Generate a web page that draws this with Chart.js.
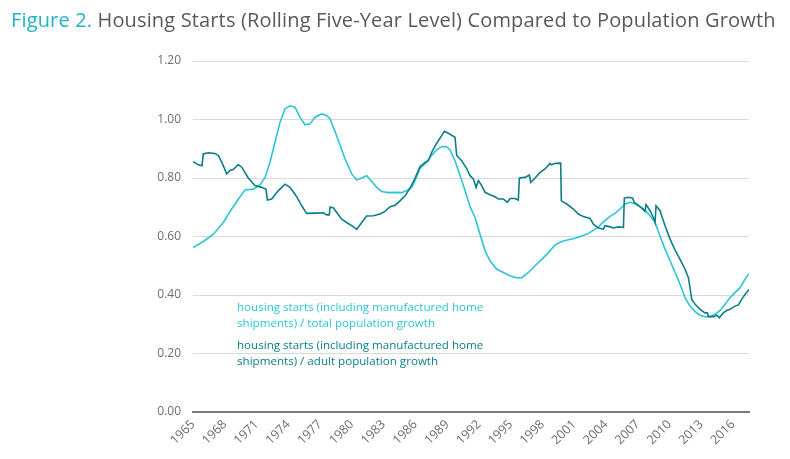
<!DOCTYPE html>
<html>
<head>
<meta charset="utf-8">
<script src="https://cdn.jsdelivr.net/npm/chart.js@4/dist/chart.umd.min.js"></script>
<style>
  html, body { margin: 0; padding: 0; background: #ffffff; }
  #wrap { position: relative; width: 790px; height: 459px; overflow: hidden; }
  #title { position: absolute; left: 11px; top: 6px; font-family: "Open Sans", sans-serif; font-size: 20px; color: #58595b; white-space: nowrap; letter-spacing: 0.15px; }
  #title .fig { color: #1fb3c3; }
  .leg { position: absolute; left: 237px; font-family: "Open Sans", sans-serif; font-size: 11.6px; line-height: 16px; white-space: nowrap; }
  #leg1 { top: 299px; color: #2cc6d6; }
  #leg2 { top: 337px; color: #0c8089; }
  canvas { position: absolute; left: 0; top: 0; }
</style>
</head>
<body>
<div id="wrap">
  <canvas id="c" width="790" height="459"></canvas>
  <div id="title"><span class="fig">Figure 2.</span> Housing Starts (Rolling Five-Year Level) Compared to Population Growth</div>
  <div class="leg" id="leg1">housing starts (including manufactured home<br>shipments) / total population growth</div>
  <div class="leg" id="leg2">housing starts (including manufactured home<br>shipments) / adult population growth</div>
</div>
<script>
// X-axis tick labels (years)
const tickYears = [1965, 1968, 1971, 1974, 1977, 1980, 1983, 1986, 1989, 1992, 1995, 1998, 2001, 2004, 2007, 2010, 2013, 2016];

// Series: housing starts / total population growth (light cyan)
const totalYears = [1965.00, 1965.98, 1966.92, 1967.86, 1968.65, 1969.44, 1969.91, 1970.69, 1971.33, 1971.80, 1972.27, 1972.74, 1973.22, 1973.69, 1974.16, 1974.63, 1975.10, 1975.58, 1976.05, 1976.52, 1977.15, 1977.62, 1977.94, 1978.25, 1978.73, 1979.36, 1979.99, 1980.46, 1980.93, 1981.40, 1981.87, 1982.35, 1982.82, 1983.45, 1984.08, 1984.71, 1985.18, 1985.65, 1985.97, 1986.44, 1986.91, 1987.38, 1988.01, 1988.48, 1988.96, 1989.27, 1989.74, 1990.22, 1990.69, 1991.16, 1991.63, 1992.10, 1992.58, 1993.05, 1993.68, 1994.31, 1994.94, 1995.57, 1996.04, 1996.67, 1997.30, 1997.93, 1998.56, 1999.19, 1999.82, 2000.45, 2001.08, 2001.70, 2002.33, 2002.81, 2003.28, 2003.75, 2004.38, 2004.85, 2005.32, 2005.80, 2006.27, 2006.74, 2007.21, 2007.68, 2008.16, 2008.63, 2009.10, 2009.57, 2010.05, 2010.52, 2010.99, 2011.46, 2011.93, 2012.41, 2012.88, 2013.35, 2013.82, 2014.30, 2014.77, 2015.24, 2015.71, 2016.18, 2016.66, 2017.13, 2017.50];
const totalValues = [0.562, 0.583, 0.608, 0.648, 0.694, 0.736, 0.759, 0.762, 0.776, 0.802, 0.854, 0.922, 0.991, 1.037, 1.047, 1.042, 1.008, 0.982, 0.985, 1.008, 1.019, 1.014, 1.002, 0.974, 0.928, 0.865, 0.814, 0.793, 0.800, 0.808, 0.789, 0.768, 0.754, 0.750, 0.751, 0.750, 0.757, 0.768, 0.791, 0.834, 0.848, 0.871, 0.896, 0.907, 0.907, 0.896, 0.859, 0.808, 0.757, 0.702, 0.665, 0.608, 0.551, 0.517, 0.488, 0.477, 0.465, 0.459, 0.459, 0.477, 0.500, 0.522, 0.545, 0.571, 0.583, 0.589, 0.594, 0.602, 0.610, 0.622, 0.633, 0.650, 0.669, 0.679, 0.694, 0.711, 0.717, 0.711, 0.702, 0.690, 0.671, 0.648, 0.602, 0.557, 0.517, 0.477, 0.437, 0.391, 0.362, 0.343, 0.331, 0.326, 0.326, 0.334, 0.347, 0.368, 0.391, 0.408, 0.425, 0.454, 0.473];

// Series: housing starts / adult population growth (dark teal)
const adultYears = [1965.00, 1965.50, 1965.85, 1965.97, 1966.45, 1967.08, 1967.39, 1967.71, 1968.18, 1968.50, 1968.80, 1969.28, 1969.60, 1970.22, 1970.85, 1971.48, 1971.89, 1972.02, 1972.43, 1973.06, 1973.69, 1974.16, 1974.79, 1975.26, 1975.73, 1976.68, 1977.31, 1977.62, 1977.87, 1977.94, 1978.25, 1978.57, 1979.04, 1979.51, 1979.99, 1980.46, 1980.93, 1981.40, 1982.03, 1982.66, 1983.13, 1983.61, 1984.08, 1984.55, 1985.02, 1985.49, 1985.97, 1986.44, 1986.91, 1987.23, 1987.54, 1988.01, 1988.48, 1988.74, 1989.11, 1989.74, 1989.90, 1990.37, 1990.85, 1991.16, 1991.47, 1991.73, 1991.95, 1992.26, 1992.58, 1993.05, 1993.52, 1993.84, 1994.31, 1994.69, 1994.94, 1995.41, 1995.72, 1995.82, 1996.35, 1996.76, 1996.89, 1997.30, 1997.77, 1998.24, 1998.71, 1998.87, 1999.19, 1999.72, 1999.78, 2000.29, 2000.92, 2001.39, 2001.86, 2002.49, 2002.81, 2003.28, 2003.75, 2003.91, 2004.38, 2004.69, 2005.17, 2005.64, 2005.73, 2006.11, 2006.52, 2006.65, 2006.90, 2007.37, 2007.68, 2007.78, 2008.16, 2008.47, 2008.63, 2008.72, 2009.10, 2009.57, 2010.05, 2010.52, 2010.99, 2011.46, 2011.78, 2011.93, 2012.09, 2012.41, 2012.88, 2013.35, 2013.57, 2013.67, 2014.14, 2014.45, 2014.70, 2015.08, 2015.40, 2015.71, 2016.18, 2016.50, 2016.81, 2017.13, 2017.50];
const adultValues = [0.856, 0.845, 0.842, 0.882, 0.886, 0.884, 0.877, 0.854, 0.814, 0.826, 0.829, 0.846, 0.837, 0.800, 0.774, 0.768, 0.762, 0.725, 0.728, 0.757, 0.779, 0.768, 0.736, 0.705, 0.679, 0.680, 0.681, 0.674, 0.674, 0.700, 0.698, 0.682, 0.659, 0.648, 0.637, 0.624, 0.648, 0.670, 0.671, 0.677, 0.686, 0.702, 0.707, 0.722, 0.739, 0.765, 0.800, 0.839, 0.853, 0.859, 0.888, 0.919, 0.945, 0.960, 0.953, 0.939, 0.877, 0.859, 0.831, 0.808, 0.797, 0.768, 0.791, 0.774, 0.751, 0.743, 0.736, 0.728, 0.728, 0.717, 0.730, 0.730, 0.725, 0.800, 0.802, 0.810, 0.785, 0.800, 0.819, 0.831, 0.850, 0.845, 0.850, 0.851, 0.722, 0.711, 0.694, 0.677, 0.668, 0.662, 0.642, 0.629, 0.625, 0.637, 0.633, 0.629, 0.633, 0.631, 0.731, 0.734, 0.731, 0.717, 0.711, 0.697, 0.686, 0.709, 0.688, 0.665, 0.648, 0.705, 0.688, 0.637, 0.591, 0.553, 0.522, 0.488, 0.459, 0.425, 0.385, 0.368, 0.351, 0.339, 0.339, 0.326, 0.326, 0.331, 0.322, 0.339, 0.347, 0.351, 0.362, 0.366, 0.385, 0.402, 0.419];

const toPoints = (xs, ys) => xs.map((x, i) => ({ x: x, y: ys[i] }));

new Chart(document.getElementById('c'), {
  type: 'line',
  data: {
    datasets: [
      {
        label: 'housing starts (including manufactured home shipments) / adult population growth',
        data: toPoints(adultYears, adultValues),
        borderColor: '#0d7e87',
        borderWidth: 1.6,
        pointRadius: 0,
        tension: 0,
        fill: false,
        order: 0
      },
      {
        label: 'housing starts (including manufactured home shipments) / total population growth',
        data: toPoints(totalYears, totalValues),
        borderColor: '#2cc5d4',
        borderWidth: 1.6,
        pointRadius: 0,
        tension: 0,
        fill: false,
        order: 1
      }
    ]
  },
  options: {
    responsive: false,
    animation: false,
    events: [],
    layout: { padding: { left: 133, right: 41, top: 61, bottom: 7 } },
    plugins: { legend: { display: false }, tooltip: { enabled: false }, title: { display: false } },
    scales: {
      x: {
        type: 'linear',
        min: 1965,
        max: 2017.5,
        afterBuildTicks: (axis) => { axis.ticks = tickYears.map(v => ({ value: v })); },
        afterFit: (scale) => { scale.height = 40; },
        grid: { display: false, drawTicks: false },
        border: { display: true, color: '#7a7a7a', width: 2 },
        ticks: {
          autoSkip: false,
          minRotation: 45,
          maxRotation: 45,
          padding: 5,
          color: '#6d6e71',
          font: { family: 'Open Sans', size: 12.5 },
          callback: (v) => String(v)
        }
      },
      y: {
        min: 0,
        max: 1.2,
        afterFit: (scale) => { scale.width = 60; },
        grid: { color: '#dadada', lineWidth: 1, drawTicks: false },
        border: { display: false },
        ticks: {
          stepSize: 0.2,
          padding: 12,
          color: '#6d6e71',
          font: { family: 'Open Sans', size: 12 },
          callback: (v) => Number(v).toFixed(2)
        }
      }
    }
  }
});
</script>
</body>
</html>
